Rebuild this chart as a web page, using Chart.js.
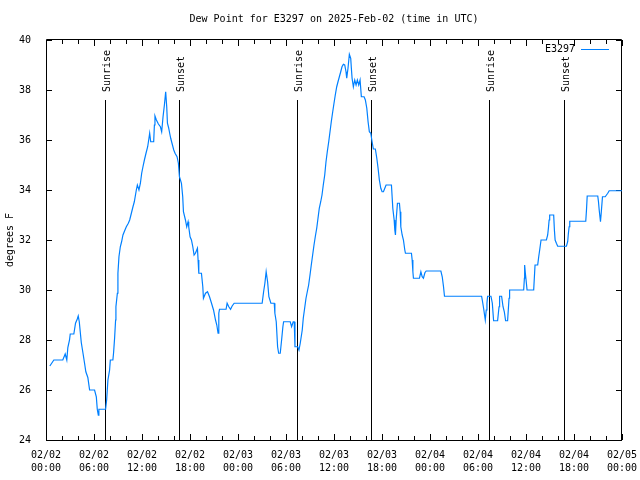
<!DOCTYPE html>
<html>
<head>
<meta charset="utf-8">
<script src="https://cdn.jsdelivr.net/npm/chart.js@4.4.1/dist/chart.umd.min.js"></script>
<style>
html,body{margin:0;padding:0;background:#fff;}
</style>
</head>
<body>
<canvas id="dewChart" width="640" height="480"></canvas>
<script>
// ======================================================
// DATA  (hours since 2025-02-02 00:00 UTC, dew point in F)
// ======================================================

const day1Hours = [
    0.48,0.98,2.10,2.40,2.60,2.73,2.94,3.03,3.48,3.69,
    3.91,4.03,4.16,4.41,4.61,4.82,4.98,5.23,5.45,6.07,
    6.29,6.41,6.54,6.61,7.45,7.58,7.74,7.95,8.04,8.36,
    8.45,8.58,8.70,8.74,8.92,8.99,9.12,9.29,9.45,9.62,
    9.87,10.04,10.29,10.46,10.67,10.87,11.04,11.29,11.42,11.62,
    11.80,11.96,12.12,12.30,12.50,12.71,12.87,12.96,13.09,13.46,
    13.55,13.62,13.80,14.05,14.30,14.46,14.63,14.80,14.96,15.09,
    15.18,15.34,15.46,15.59,15.75,15.97,16.13,16.38,16.55,16.68,
    16.93,17.09,17.18,17.43,17.59,17.76,17.84,18.01,18.18,18.35,
    18.51,18.68,18.93,19.01,19.10,19.43,19.60,19.68,19.94,20.19,
    20.44,20.69,20.94,21.19,21.35,21.51,21.60,21.69,22.51,22.64,
    22.85,23.07,23.27,23.52
];

const day1Dew = [
    26.96,27.2,27.2,27.44,27.2,27.7,28.0,28.24,28.24,28.67,
    28.84,28.96,28.73,27.9,27.5,27.07,26.73,26.5,26.0,26.0,
    25.73,25.23,24.99,25.23,25.23,25.6,26.4,26.8,27.2,27.2,
    27.5,28.1,28.8,29.33,29.87,30.67,31.33,31.73,31.93,32.2,
    32.4,32.53,32.67,32.8,33.07,33.33,33.53,34.0,34.2,34.0,
    34.27,34.67,34.93,35.2,35.47,35.73,36.07,36.27,35.93,35.93,
    36.6,36.96,36.8,36.64,36.53,36.33,36.93,37.4,37.93,37.33,
    36.67,36.47,36.27,36.07,35.87,35.6,35.47,35.33,35.07,34.53,
    34.27,33.73,33.13,32.8,32.53,32.73,32.53,32.13,32.0,31.73,
    31.4,31.47,31.67,31.2,30.67,30.67,30.13,29.67,29.87,29.93,
    29.73,29.47,29.2,28.8,28.6,28.27,29.07,29.23,29.23,29.47,
    29.33,29.23,29.36,29.47
];

const day2Hours = [
    27.02,27.20,27.36,27.52,27.70,27.86,28.11,28.53,28.61,28.78,
    28.95,29.08,29.28,29.45,29.61,29.70,30.53,30.70,30.90,31.03,
    31.12,31.46,31.62,31.78,32.03,32.16,32.33,32.50,32.66,32.83,
    33.00,33.16,33.33,33.50,33.66,33.84,34.00,34.16,34.34,34.50,
    34.66,34.84,35.00,35.16,35.34,35.50,35.66,35.84,36.00,36.16,
    36.34,36.50,36.67,36.84,37.00,37.17,37.34,37.50,37.59,37.75,
    37.92,38.09,38.17,38.26,38.42,38.59,38.76,38.92,39.09,39.26,
    39.42,39.76,39.92,40.10,40.26,40.42,40.60,40.76,40.92,41.17,
    41.35,41.51,41.67,41.85,42.01,42.18,42.35,42.51,43.18,43.35,
    43.52,43.60,43.68,43.77,43.93,44.18,44.27,44.35,44.52,44.68,
    44.85,44.93,45.68,45.77,45.86,45.93,46.68,46.86,47.02,47.18,
    47.36,47.52
];

const day2Dew = [
    29.47,29.93,30.27,30.73,30.33,29.73,29.47,29.47,29.07,28.73,
    27.73,27.47,27.47,28.0,28.53,28.73,28.73,28.53,28.73,28.73,
    27.73,27.73,27.6,27.87,28.4,28.87,29.27,29.67,29.93,30.2,
    30.6,31.0,31.4,31.8,32.13,32.47,32.87,33.27,33.53,33.8,
    34.2,34.6,35.13,35.53,35.93,36.33,36.73,37.13,37.47,37.8,
    38.13,38.33,38.53,38.73,38.93,39.03,39.0,38.73,38.47,38.87,
    39.43,39.27,38.87,38.47,38.13,38.4,38.2,38.4,38.2,38.4,
    37.73,37.73,37.6,37.27,36.73,36.33,36.27,35.93,35.64,35.64,
    35.27,34.87,34.4,34.07,33.93,33.93,34.07,34.2,34.2,33.27,
    32.8,32.4,32.2,32.8,33.47,33.47,33.13,32.53,32.2,32.0,
    31.6,31.47,31.47,31.2,30.73,30.47,30.47,30.73,30.53,30.47,
    30.69,30.76
];

const day3Hours = [
    49.36,49.53,49.69,49.81,54.45,54.57,54.70,54.82,54.91,55.03,
    55.12,55.20,55.62,55.79,55.95,56.45,56.63,56.70,56.95,57.13,
    57.29,57.45,57.70,57.88,57.95,59.71,59.80,59.83,59.92,60.05,
    60.13,60.96,61.05,61.13,61.46,61.59,61.71,61.88,62.55,62.71,
    62.80,62.89,62.96,63.46,63.55,63.64,63.80,63.96,65.05,65.21,
    65.30,65.39,65.47,67.47,67.56,67.65,68.97,69.06,69.15,69.31,
    69.40,69.56,69.90,70.06,70.22,70.40,72.00
];

const day3Dew = [
    30.76,30.53,30.13,29.75,29.75,29.53,29.27,29.0,28.8,29.2,
    29.47,29.75,29.75,29.47,28.77,28.77,29.33,29.75,29.75,29.33,
    29.13,28.77,28.77,29.67,30.0,30.0,30.47,31.0,30.67,30.27,
    30.0,30.0,30.53,31.0,31.0,31.33,31.6,32.0,32.0,32.2,
    32.47,32.8,33.0,33.0,32.4,32.0,31.87,31.75,31.75,31.93,
    32.27,32.53,32.75,32.75,33.2,33.76,33.76,33.53,33.2,32.73,
    33.07,33.73,33.73,33.8,33.87,33.97,33.97
];

// sun events, hours since start
const sunriseHours = [7.38, 31.40, 55.36];
const sunsetHours  = [16.65, 40.67, 64.70];

// x tick labels, one per 6 hours
const tickDates = ["02/02","02/02","02/02","02/02","02/03","02/03","02/03","02/03","02/04","02/04","02/04","02/04","02/05"];
const tickTimes = ["00:00","06:00","12:00","18:00","00:00","06:00","12:00","18:00","00:00","06:00","12:00","18:00","00:00"];

const stationName = "E3297";
const chartTitle = "Dew Point for E3297 on 2025-Feb-02 (time in UTC)";

// ======================================================
// BUILD POINTS
// ======================================================

const allHours = day1Hours.concat(day2Hours, day3Hours);
const allDew = day1Dew.concat(day2Dew, day3Dew);

const points = allHours.map((h,i)=>({x:h, y:allDew[i]}));

const MONO = "'DejaVu Sans Mono', 'Liberation Mono', monospace";
const LINE_BLUE = "rgb(0,128,255)";

// ======================================================
// GNUPLOT STYLE FRAME, TICKS, SUN LINES, KEY
// ======================================================

const gnuplotDecor = {

    id:"gnuplotDecor",

    beforeDatasetsDraw(chart){

        const {ctx, chartArea:a, scales:{x,y}} = chart;

        ctx.save();
        ctx.strokeStyle = "#000";
        ctx.lineWidth = 1;

        // border
        ctx.beginPath();
        ctx.moveTo(a.left+0.5, a.top-0.5);
        ctx.lineTo(a.right-0.5, a.top-0.5);
        ctx.lineTo(a.right-0.5, a.bottom+0.5);
        ctx.lineTo(a.left+0.5, a.bottom+0.5);
        ctx.closePath();
        ctx.stroke();

        // x ticks (major every 6h, minor every 2h), inward, mirrored
        ctx.beginPath();
        for(let v=0; v<=72; v+=2){
            const px = Math.round(x.getPixelForValue(v)) + 0.5;
            const len = (v % 6 === 0) ? 6 : 4;
            ctx.moveTo(px, a.bottom);
            ctx.lineTo(px, a.bottom - len);
            ctx.moveTo(px, a.top);
            ctx.lineTo(px, a.top + len);
        }

        // y ticks
        y.ticks.forEach(t=>{
            const py = Math.round(y.getPixelForValue(t.value)) + 0.5;
            ctx.moveTo(a.left, py);
            ctx.lineTo(a.left + 6, py);
            ctx.moveTo(a.right, py);
            ctx.lineTo(a.right - 6, py);
        });
        ctx.stroke();

        // sunrise / sunset lines
        const lineTop = a.top + 60;
        const drawSun = (h, label)=>{
            const px = Math.round(x.getPixelForValue(h)) + 0.5;
            ctx.beginPath();
            ctx.moveTo(px, lineTop);
            ctx.lineTo(px, a.bottom);
            ctx.stroke();

            ctx.save();
            ctx.translate(px + 1.5, a.top + 52);
            ctx.rotate(-Math.PI/2);
            ctx.fillStyle = "#000";
            ctx.font = "10px " + MONO;
            ctx.textAlign = "left";
            ctx.textBaseline = "middle";
            ctx.fillText(label, 0, 0);
            ctx.restore();
        };
        sunriseHours.forEach(h=>drawSun(h, "Sunrise"));
        sunsetHours.forEach(h=>drawSun(h, "Sunset"));

        ctx.restore();

    },

    afterDraw(chart){

        const {ctx, chartArea:a} = chart;

        // key, top right
        const ky = a.top + 9.5;
        ctx.save();
        ctx.fillStyle = "#000";
        ctx.font = "10px " + MONO;
        ctx.textAlign = "right";
        ctx.textBaseline = "middle";
        ctx.fillText(stationName, a.right - 47, ky);
        ctx.strokeStyle = LINE_BLUE;
        ctx.lineWidth = 1;
        ctx.beginPath();
        ctx.moveTo(a.right - 41, ky);
        ctx.lineTo(a.right - 13, ky);
        ctx.stroke();
        ctx.restore();

    }

};

// ======================================================
// CHART
// ======================================================

new Chart(document.getElementById("dewChart"),{

    type:"line",

    plugins:[gnuplotDecor],

    data:{
        datasets:[{
            label:stationName,
            data:points,
            borderColor:LINE_BLUE,
            borderWidth:1.2,
            pointRadius:0,
            tension:0,
            fill:false
        }]
    },

    options:{

        responsive:false,
        animation:false,

        layout:{
            padding:{left:0, right:18, top:0, bottom:0}
        },

        plugins:{
            legend:{display:false},
            tooltip:{enabled:false},
            title:{
                display:true,
                text:chartTitle,
                fullSize:false,
                color:"#000",
                font:{family:MONO, size:10, weight:"normal", lineHeight:1.2},
                padding:{top:13, bottom:15}
            }
        },

        scales:{

            x:{
                type:"linear",
                min:0,
                max:72,
                grid:{display:false},
                border:{display:false},
                ticks:{
                    stepSize:6,
                    autoSkip:false,
                    maxRotation:0,
                    padding:1,
                    color:"#000",
                    font:{family:MONO, size:10, lineHeight:1.3},
                    callback:v=>{
                        const i = Math.round(v/6);
                        return [tickDates[i], tickTimes[i]];
                    }
                },
                afterFit:scale=>{
                    scale.height = 40;
                    scale.paddingLeft = 0;
                    scale.paddingRight = 0;
                }
            },

            y:{
                min:24,
                max:40,
                grid:{display:false},
                border:{display:false},
                title:{
                    display:true,
                    text:"degrees F",
                    color:"#000",
                    font:{family:MONO, size:10},
                    padding:{top:4, bottom:0}
                },
                ticks:{
                    stepSize:2,
                    padding:7,
                    color:"#000",
                    font:{family:MONO, size:10}
                },
                afterFit:scale=>{
                    scale.width = 46;
                    scale.paddingTop = 0;
                    scale.paddingBottom = 0;
                }
            }

        }

    }

});
</script>
</body>
</html>
